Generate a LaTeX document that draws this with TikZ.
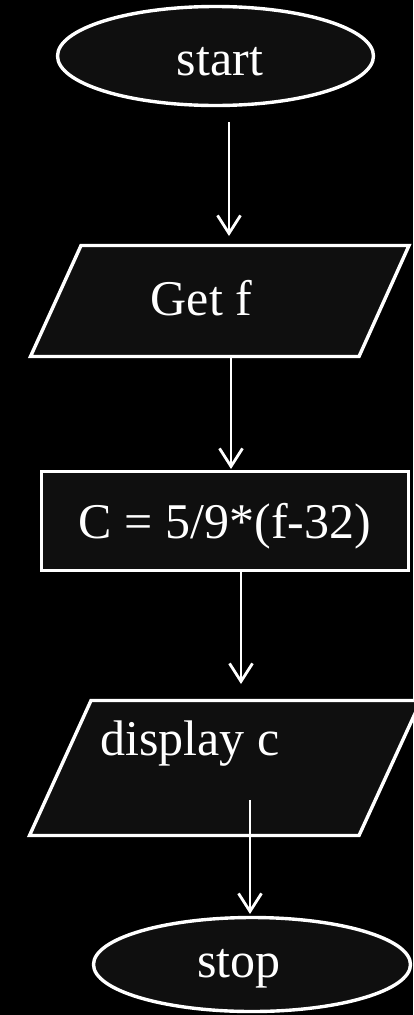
\documentclass[tikz,border=0pt]{standalone}
\usepackage{fontspec}
\setmainfont{Liberation Serif}
\usetikzlibrary{shapes.geometric,arrows.meta}
\definecolor{shapefill}{RGB}{15,15,15}
\begin{document}
\begin{tikzpicture}[x=1pt,y=-1pt,
  shp/.style={draw=white, line width=3.4pt, fill=shapefill, inner sep=0pt, outer sep=0pt, line join=miter},
  txt/.style={text=white, font=\fontsize{50}{54}\selectfont, anchor=base, inner sep=0pt},
  arr/.style={draw=white, line width=2.8pt, -{Straight Barb[length=18pt,width=23pt,line width=2.8pt]}}]
\fill[black] (0,0) rectangle (413,1015);
\useasboundingbox (0,0) rectangle (413,1015);
% shapes
\node[shp, ellipse, minimum width=316pt, minimum height=99pt] (start) at (215.5,56) {};
\coordinate (g1) at (81,245.5); \coordinate (g2) at (409,245.5);
\coordinate (g3) at (359,356.5); \coordinate (g4) at (30.5,356.5);
\draw[shp] (g1) -- (g2) -- (g3) -- (g4) -- cycle;
\node[shp, rectangle, minimum width=367pt, minimum height=99pt] (calc) at (225,521) {};
\coordinate (d1) at (91,700.5); \coordinate (d2) at (421,700.5);
\coordinate (d3) at (359,835.5); \coordinate (d4) at (29.5,835.5);
\draw[shp] (d1) -- (d2) -- (d3) -- (d4) -- cycle;
\node[shp, ellipse, minimum width=317pt, minimum height=94pt] (stop) at (252,964.5) {};
% texts
\node[txt] (tstart) at (220,75) {start};
\node[txt] (tgetf) at (201.5,315) {Get f};
\node[txt] (tcalc) at (225,538) {C = 5/9*(f-32)};
\node[txt] (tdisp) at (190,755) {display c};
\node[txt] (tstop) at (239,977) {stop};
% connector ends
\coordinate (a1s) at (229,122); \coordinate (a1e) at (229,236);
\coordinate (a2s) at (231,357); \coordinate (a2e) at (231,469);
\coordinate (a3s) at (241,572); \coordinate (a3e) at (241,684);
\coordinate (a4s) at (250,800); \coordinate (a4e) at (250,914);
\draw[arr] (a1s) -- (a1e);
\draw[arr] (a2s) -- (a2e);
\draw[arr] (a3s) -- (a3e);
\draw[arr] (a4s) -- (a4e);
\end{tikzpicture}
\end{document}
